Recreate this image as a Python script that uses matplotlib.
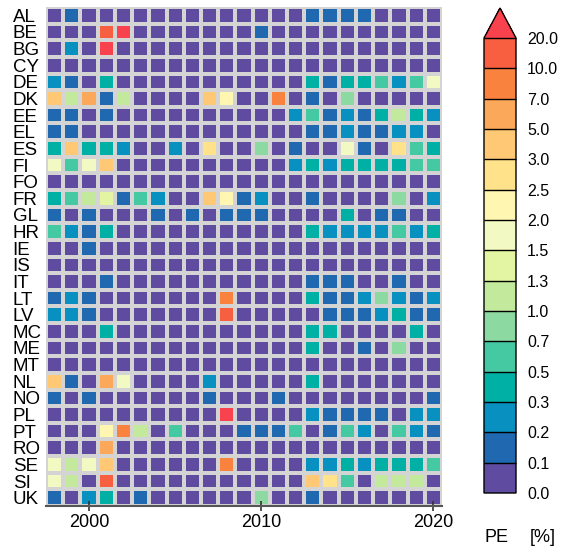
import numpy as np
import matplotlib
matplotlib.use('Agg')
import matplotlib.pyplot as plt
from matplotlib.colors import ListedColormap, BoundaryNorm

plt.rcParams['font.family'] = ['Liberation Sans', 'DejaVu Sans']

# ── data ─────────────────────────────────────────────────────────────────────
countries = ['AL', 'BE', 'BG', 'CY', 'DE', 'DK', 'EE', 'EL', 'ES', 'FI',
             'FO', 'FR', 'GL', 'HR', 'IE', 'IS', 'IT', 'LT', 'LV', 'MC',
             'ME', 'MT', 'NL', 'NO', 'PL', 'PT', 'RO', 'SE', 'SI', 'UK']
years = list(range(1998, 2021))

# PE [%] per country, one value per year 1998..2020
pe = [
    [0, .15, 0, 0, 0, 0, 0, 0, 0, 0, 0, 0, 0, 0, 0, .15, .15, .15, .15, 0, 0, 0, 0],      # AL
    [0, 0, 0, 15, 25, 0, 0, 0, 0, 0, 0, 0, .15, 0, 0, 0, 0, 0, 0, 0, 0, 0, 0],           # BE
    [0, .25, 0, 25, 0, 0, 0, 0, 0, 0, 0, 0, 0, 0, 0, 0, 0, 0, 0, 0, 0, 0, 0],            # BG
    [0, 0, 0, 0, 0, 0, 0, 0, 0, 0, 0, 0, 0, 0, 0, 0, 0, 0, 0, 0, 0, 0, 0],               # CY
    [.25, .15, 0, .4, 0, 0, 0, 0, 0, 0, 0, 0, 0, 0, 0, .4, .15, .4, .4, .6, .25, .6, 1.7],  # DE
    [4, 1.1, 6, .15, 1.1, 0, 0, 0, 0, 4, 2.2, 0, 0, 8, 0, .15, 0, .8, 0, 0, 0, 0, 0],     # DK
    [.15, .15, 0, .15, 0, 0, 0, 0, 0, 0, 0, 0, 0, 0, .25, .6, .15, .25, .15, .4, 1.1, .4, .25],  # EE
    [.15, .15, 0, 0, 0, 0, 0, 0, 0, 0, 0, 0, 0, 0, 0, .15, .15, .25, .15, .15, .25, .25, 0],  # EL
    [.4, 4, .4, .4, .25, 0, 0, .25, 0, 2.7, 0, 0, .8, 0, .15, 0, 0, 1.7, .15, 0, 2.7, .6, .4],  # ES
    [1.7, .6, 1.7, 4, 0, 0, 0, 0, 0, 0, 0, 0, 0, 0, .25, .4, .25, .4, .4, .4, .4, .6, .6],  # FI
    [0, 0, 0, 0, 0, 0, 0, 0, 0, 0, 0, 0, 0, 0, 0, 0, 0, 0, 0, 0, 0, 0, 0],               # FO
    [.4, .6, 1.1, 1.4, .15, .6, .25, 0, 0, 4, 2.2, .15, .25, 0, 0, .15, 0, 0, 0, 0, .8, 0, .25],  # FR
    [.15, 0, .15, 0, 0, 0, .15, 0, .15, 0, .15, .15, .15, 0, 0, 0, 0, .4, 0, .15, .15, 0, 0],  # GL
    [.6, .25, .15, .4, 0, 0, 0, 0, 0, 0, 0, 0, 0, 0, 0, .4, .25, .25, .25, .25, .6, .25, .4],  # HR
    [0, 0, .15, 0, 0, 0, 0, 0, 0, 0, 0, 0, 0, 0, 0, 0, 0, 0, 0, 0, 0, 0, 0],             # IE
    [0, 0, 0, 0, 0, 0, 0, 0, 0, 0, 0, 0, 0, 0, 0, 0, 0, 0, 0, 0, 0, 0, 0],               # IS
    [0, 0, 0, .15, 0, 0, 0, 0, 0, 0, 0, 0, 0, 0, 0, .15, .15, .15, 0, 0, .15, 0, 0],     # IT
    [.15, .25, .15, 0, 0, 0, 0, 0, 0, 0, 8, 0, 0, 0, 0, .4, .15, .15, .25, .8, .25, .15, .25],  # LT
    [.25, .25, .15, 0, 0, 0, 0, 0, 0, 0, 15, 0, 0, 0, 0, 0, .15, .15, .15, .25, .4, .15, .15],  # LV
    [0, 0, 0, .4, 0, 0, 0, 0, 0, 0, 0, 0, 0, 0, 0, .4, .4, 0, 0, 0, 0, .4, 0],           # MC
    [0, 0, 0, 0, 0, 0, 0, 0, 0, 0, 0, 0, 0, 0, 0, .4, 0, 0, .15, 0, .8, 0, 0],           # ME
    [0, 0, 0, 0, 0, 0, 0, 0, 0, 0, 0, 0, 0, 0, 0, 0, 0, 0, 0, 0, 0, 0, 0],               # MT
    [4, .15, 0, 6, 1.7, 0, 0, 0, 0, .25, 0, 0, 0, 0, 0, .4, 0, 0, 0, 0, 0, 0, 0],         # NL
    [.15, 0, .15, 0, 0, 0, 0, 0, 0, .15, 0, 0, 0, .15, 0, 0, 0, 0, 0, 0, 0, 0, .15],     # NO
    [0, 0, 0, 0, 0, 0, 0, 0, 0, 0, 25, 0, 0, 0, 0, .25, .15, .15, .15, .15, 0, .25, .25],  # PL
    [0, 0, 0, 2.2, 8, 1.1, 0, .6, 0, 0, 0, .15, .15, .15, .6, 0, .15, .6, .25, 0, .6, .25, .15],  # PT
    [0, 0, 0, 6, 0, 0, 0, 0, 0, 0, 0, 0, 0, 0, 0, 0, 0, 0, 0, 0, 0, 0, 0],               # RO
    [1.7, 1.1, 1.7, 4, 0, 0, 0, 0, 0, 0, 8, 0, 0, 0, 0, .25, .25, .4, .25, .4, .4, .4, .6],  # SE
    [1.7, 1.1, 0, 15, 0, 0, 0, 0, 0, 0, 0, 0, 0, 0, 0, 4, 2.7, .6, 0, 1.1, 1.1, 1.1, 0],  # SI
    [.15, 0, .25, .4, 0, .15, 0, 0, 0, 0, 0, 0, .8, 0, 0, .15, 0, 0, 0, 0, 0, 0, 0],     # UK
]

bounds = [0.0, 0.1, 0.2, 0.3, 0.5, 0.7, 1.0, 1.3, 1.5, 2.0, 2.5, 3.0, 5.0, 7.0, 10.0, 20.0]

# ── colours ──────────────────────────────────────────────────────────────────
colors = ['#5f4ba0', '#2068b0', '#0890c0', '#00b0a4', '#44c9a2', '#8cd9a2',
          '#c2e99c', '#e3f5a2', '#f3f9c2', '#fff6b2', '#ffe28a', '#fec874',
          '#fca85a', '#f8823e', '#f85e40']
cmap = ListedColormap(colors)
cmap.set_over('#f8424e')
norm = BoundaryNorm(bounds, cmap.N)

# ── draw ─────────────────────────────────────────────────────────────────────
fig = plt.figure(figsize=(5.62, 5.49), dpi=100)
ax = fig.add_axes([46 / 562, 1 - 506 / 549, 396 / 562, 499 / 549])

data = np.array(pe)
x_edges = np.arange(years[0] - 0.5, years[-1] + 1.0)
y_edges = np.arange(len(countries) + 1) - 0.5
mesh = ax.pcolormesh(x_edges, y_edges, data, cmap=cmap, norm=norm,
                     edgecolors='#d4d4d4', linewidth=1.6)

ax.set_xlim(x_edges[0], x_edges[-1])
ax.set_ylim(len(countries) - 0.5, -0.5)

ax.set_yticks(range(len(countries)))
ax.set_yticklabels(countries, fontsize=13.5, ha='left')
ax.tick_params(axis='y', length=0, pad=24)

ax.set_xticks([2000, 2010, 2020])
ax.tick_params(axis='x', direction='inout', length=7, width=1.2,
               color='#333333', labelsize=13, pad=2)

for side in ['top', 'right', 'left']:
    ax.spines[side].set_visible(False)
ax.spines['bottom'].set_color('#555555')
ax.spines['bottom'].set_linewidth(1.5)

# ── colorbar ─────────────────────────────────────────────────────────────────
cax = fig.add_axes([484 / 562, 1 - 493 / 549, 32 / 562, 485 / 549])
cbar = fig.colorbar(mesh, cax=cax, extend='max', extendfrac=0.066,
                    drawedges=True, spacing='uniform', ticks=bounds)
cbar.ax.set_yticklabels([f'{b:.1f}' for b in bounds])
cbar.ax.tick_params(length=0, pad=8, labelsize=11.5)
cbar.outline.set_linewidth(1.0)
cbar.dividers.set_linewidth(1.0)

fig.text(497 / 562, 1 - 537 / 549, 'PE', fontsize=13, ha='center', va='center')
fig.text(543 / 562, 1 - 537 / 549, '[%]', fontsize=13, ha='center', va='center')

plt.savefig('out.png', dpi=100)
